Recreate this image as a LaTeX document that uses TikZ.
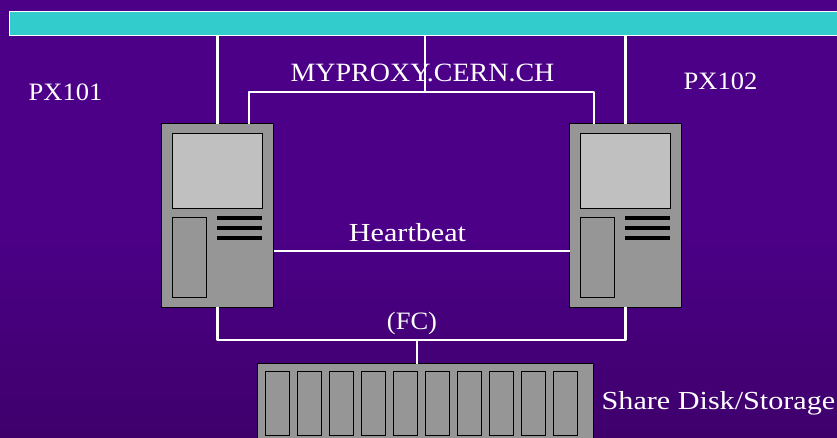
\documentclass[tikz,border=0pt]{standalone}
\usepackage{fontspec}
\setmainfont[FakeStretch=1.06]{Liberation Serif}
\newfontfamily\widefont[FakeStretch=1.16]{Liberation Serif}
\usetikzlibrary{positioning,calc}
\definecolor{barcyan}{HTML}{33CCCC}
\definecolor{boxgrey}{HTML}{969696}
\definecolor{screengrey}{HTML}{C0C0C0}
\definecolor{bgtop}{HTML}{47007A}
\definecolor{bgmid}{HTML}{4C0088}
\definecolor{bglow}{HTML}{3F006C}
\definecolor{bgbottom}{HTML}{300056}
\pgfdeclareverticalshading{slidebg}{100bp}{
  color(0bp)=(bgbottom); color(25bp)=(bglow); color(50bp)=(bgmid);
  color(75bp)=(bgmid); color(100bp)=(bgtop)}
\tikzset{
  boxed/.style={rectangle, draw=black, line width=0.9pt, inner sep=0pt, outer sep=0pt},
  srvbox/.style={boxed, fill=boxgrey, minimum width=111.5pt, minimum height=183.5pt},
  screen/.style={boxed, fill=screengrey, minimum width=89.5pt, minimum height=75pt},
  drive/.style={boxed, fill=boxgrey, minimum width=34pt, minimum height=79.5pt},
  vent/.style={rectangle, fill=black, inner sep=0pt, outer sep=0pt, minimum width=45pt, minimum height=3.4pt},
  bay/.style={boxed, fill=boxgrey, minimum width=24.5pt, minimum height=64.5pt},
  wire/.style={draw=white, line width=2.6pt, line join=round},
  caption/.style={text=white, font=\fontsize{25}{30}\selectfont, inner sep=0pt, anchor=base},
  widecaption/.style={caption, font=\widefont\fontsize{26}{30}\selectfont}
}
\begin{document}
\begin{tikzpicture}[x=1pt,y=-1pt]
  \useasboundingbox (0,0) rectangle (837,437);
  \clip (0,0) rectangle (837,437);
  \shade[shading=slidebg] (0,0) rectangle (837,437);
  % network bar and the two servers
  \node[rectangle, draw=white, line width=1.2pt, fill=barcyan, minimum width=831pt, minimum height=24pt,
        inner sep=0pt, outer sep=0pt] (bar) at (425,23.5) {};
  \node[srvbox] (px101) at (217.5,215.5) {};
  \node[srvbox] (px102) at (625.5,215.5) {};
  \foreach \srv in {px101,px102} {
    \node[screen, below=9.5pt of \srv.north] (\srv scr) {};
    \node[drive, below=9.5pt of \srv scr.south west, anchor=north west] (\srv drv) {};
    \node[vent, anchor=north east] (\srv v1) at ($(\srv scr.south east)+(0,8)$) {};
    \node[vent, below=6.6pt of \srv v1] (\srv v2) {};
    \node[vent, below=6.6pt of \srv v2] (\srv v3) {};
  }
  % storage shelf, runs off the page
  \node[boxed, fill=boxgrey, minimum width=335.5pt, minimum height=90pt, anchor=north] (disk) at (425.5,363.7) {};
  \foreach \i in {0,...,9} {
    \node[bay, anchor=north west] (bay\i) at (265.3+32*\i,371.3) {};
  }
  % junction points of the wires
  \coordinate (lan) at (425,92);
  \coordinate (lanl) at (249,92);
  \coordinate (lanr) at (594,92);
  \coordinate (hbl) at (273.5,251);
  \coordinate (hbr) at (570,251);
  \coordinate (fc) at (417,340);
  % wires
  \draw[wire] (px101.north) -- (px101.north |- bar.south);
  \draw[wire] (px102.north) -- (px102.north |- bar.south);
  \draw[wire] (bar.south) -- (lan);
  \draw[wire] (lanl |- px101.north) -- (lanl) -- (lanr) -- (lanr |- px102.north);
  \draw[wire] (hbl) -- (hbr);
  \draw[wire] (px101.south) -- (px101.south |- fc) -- (px102.south |- fc) -- (px102.south);
  \draw[wire] (fc) -- (fc |- disk.north);
  % labels
  \node[caption] (lblpx1) at (65.5,100) {PX101};
  \node[caption] (lblpx2) at (720.5,89) {PX102};
  \node[caption, font=\fontsize{26.4}{30}\selectfont] (lblproxy) at (422.5,81) {MYPROXY.CERN.CH};
  \node[widecaption] (lblhb) at (407.5,241) {Heartbeat};
  \node[caption] (lblfc) at (412,329) {(FC)};
  \node[widecaption] (lbldisk) at (718.5,409) {Share Disk/Storage};
\end{tikzpicture}
\end{document}
